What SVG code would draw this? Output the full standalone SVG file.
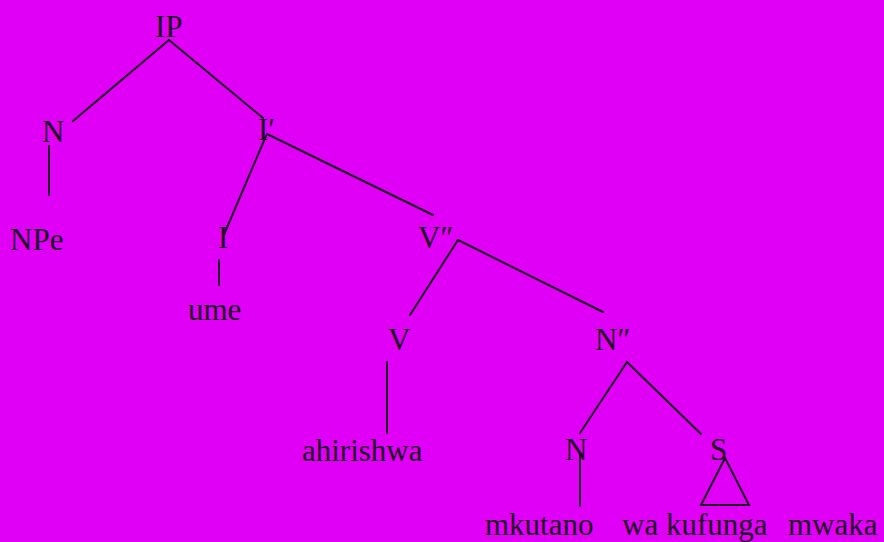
<svg xmlns="http://www.w3.org/2000/svg" width="884" height="542" viewBox="0 0 884 542">
<style>
.t{font-family:"Liberation Serif","Times New Roman",serif;font-size:31px;fill:#1e0a24}
.e{stroke:#1e0a24;stroke-width:2;fill:none;stroke-linecap:round}
</style>
<rect width="884" height="542" fill="#df00f5"/>
<g id="connectors">
<line class="e" x1="169" y1="40" x2="73" y2="121"/>
<line class="e" x1="169" y1="40" x2="263" y2="118"/>
<line class="e" x1="49" y1="146" x2="49" y2="195"/>
<line class="e" x1="266" y1="136" x2="223" y2="237"/>
<line class="e" x1="267" y1="134" x2="433" y2="215"/>
<line class="e" x1="219" y1="260" x2="219" y2="285"/>
<line class="e" x1="458" y1="240" x2="410" y2="315"/>
<line class="e" x1="458" y1="240" x2="603" y2="312"/>
<line class="e" x1="387" y1="362" x2="387" y2="433"/>
<line class="e" x1="627" y1="362" x2="580" y2="433"/>
<line class="e" x1="627" y1="362" x2="701" y2="434"/>
<line class="e" x1="580" y1="455" x2="580" y2="506"/>
<polygon class="e" points="725,458 701,505 749,505"/>
</g>
<g id="IP"><text class="t" x="155" y="37">IP</text></g>
<g id="N1"><text class="t" x="42" y="142">N</text></g>
<g id="NPe"><text class="t" x="10" y="250">NPe</text></g>
<g id="Ibar"><text class="t" x="258" y="140">I′</text></g>
<g id="I"><text class="t" x="218" y="248">I</text></g>
<g id="ume"><text class="t" x="188" y="320">ume</text></g>
<g id="V2"><text class="t" x="418" y="248">V″</text></g>
<g id="V"><text class="t" x="388" y="350">V</text></g>
<g id="ahirishwa"><text class="t" x="302" y="461">ahirishwa</text></g>
<g id="N2"><text class="t" x="595" y="350">N″</text></g>
<g id="N3"><text class="t" x="565" y="460">N</text></g>
<g id="S"><text class="t" x="710" y="460">S</text></g>
<g id="mkutano"><text class="t" x="485" y="535">mkutano</text></g>
<g id="wakufunga"><text class="t" x="622" y="535">wa kufunga</text></g>
<g id="mwaka"><text class="t" x="788" y="535">mwaka</text></g>
</svg>
